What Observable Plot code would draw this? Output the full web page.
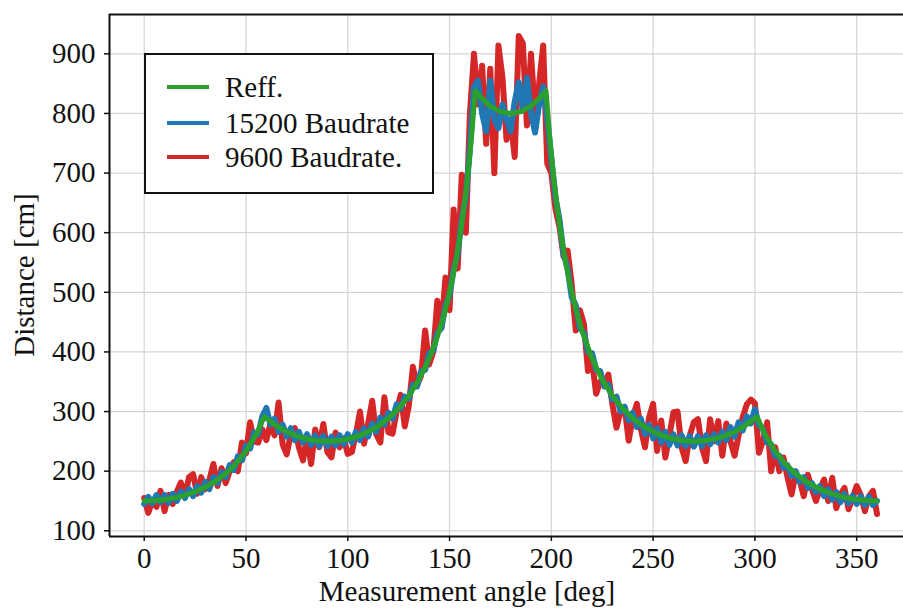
<!DOCTYPE html>
<html><head><meta charset="utf-8">
<script src="https://cdn.jsdelivr.net/npm/d3@7"></script>
<script src="https://cdn.jsdelivr.net/npm/@observablehq/plot@0.6"></script>
<style>
body{margin:0;background:#fff;}
#chart{position:relative;width:903px;height:608px;overflow:hidden;background:#fff}
</style>
</head><body><div id="chart"></div>
<script>
const seriesNames = ["Reff.", "15200 Baudrate", "9600 Baudrate."];
const seriesColors = ["#2ca02c", "#1f77b4", "#d62728"];
const xTicks = [0, 50, 100, 150, 200, 250, 300, 350];
const yTicks = [100, 200, 300, 400, 500, 600, 700, 800, 900];
const xLabel = "Measurement angle [deg]";
const yLabel = "Distance [cm]";

// Reference curve (green)
const reffAngle = [0,5,10,15,20,25,30,35,40,45,50,55,59,60,65,70,75,80,85,90,95,100,105,110,115,120,125,130,135,140,143,145,147,149,151,153,155,157,159,161,162.6,165,170,175,180,185,190,195,197.4,199,201,203,205,207,209,212,215,220,225,230,235,240,245,250,255,260,265,270,275,280,285,290,295,300,301,305,310,315,320,325,330,335,340,345,350,355,360];
const reffDist = [150,150.6,152.3,155.3,159.6,165.5,173.2,183.1,195.8,212.1,233.4,261.5,291.2,288.7,275.8,266.0,258.8,253.9,251.0,250,251.0,253.9,258.8,266.0,275.8,288.7,305.2,326.4,353.6,388.9,415.4,435.9,459.0,485.4,515.7,550.7,591.6,639.8,697.6,767.9,838,828.2,812.3,803.0,800,803.0,812.3,828.2,838,767.9,697.6,639.8,591.6,550.7,515.7,471.8,435.9,388.9,353.6,326.4,305.2,288.7,275.8,266.0,258.8,253.9,251.0,250,251.0,253.9,258.8,266.0,275.8,288.7,291.2,261.5,233.4,212.1,195.8,183.1,173.2,165.5,159.6,155.3,152.3,150.6,150];

// Measured series sampled every 2 degrees
const sampleAngle = [0,2,4,6,8,10,12,14,16,18,20,22,24,26,28,30,32,34,36,38,40,42,44,46,48,50,52,54,56,58,60,62,64,66,68,70,72,74,76,78,80,82,84,86,88,90,92,94,96,98,100,102,104,106,108,110,112,114,116,118,120,122,124,126,128,130,132,134,136,138,140,142,144,146,148,150,152,154,156,158,160,162,164,166,168,170,172,174,176,178,180,182,184,186,188,190,192,194,196,198,200,202,204,206,208,210,212,214,216,218,220,222,224,226,228,230,232,234,236,238,240,242,244,246,248,250,252,254,256,258,260,262,264,266,268,270,272,274,276,278,280,282,284,286,288,290,292,294,296,298,300,302,304,306,308,310,312,314,316,318,320,322,324,326,328,330,332,334,336,338,340,342,344,346,348,350,352,354,356,358,360];

const baud15200 = [
145,157,146,160,148,160,147,162,150,166,
155,170,158,175,164,182,170,190,180,198,
190,210,202,225,218,243,238,265,262,292,
306,278,288,266,278,258,272,252,266,248,
262,244,260,242,259,242,258,243,260,245,
262,248,266,252,272,258,280,266,290,278,
298,288,312,305,325,322,345,342,368,370,
398,402,432,440,478,495,538,565,622,660,
740,845,855,800,770,855,790,775,815,790,
770,820,852,805,860,800,768,815,845,790,
725,660,622,565,540,492,478,440,432,400,
398,370,368,342,345,320,325,300,308,285,
298,274,288,262,278,255,272,248,266,244,
262,243,260,242,259,241,259,242,260,245,
262,248,266,252,274,258,282,268,292,280,
304,278,270,248,245,225,226,206,210,192,
200,182,190,172,180,165,175,158,170,152,
165,148,162,146,159,145,158,143,157,143,
150];

const baud9600 = [
155,130,150,140,167,133,160,145,165,181,
158,190,195,162,190,170,185,212,175,205,
180,200,215,200,248,230,282,250,248,270,
252,280,260,315,245,228,262,272,240,218,
258,212,270,240,279,232,223,265,240,255,
229,232,262,300,246,280,318,262,248,324,
265,263,300,328,275,310,375,344,360,436,
379,400,486,440,525,470,639,540,697,600,
800,900,815,880,749,875,700,914,860,756,
790,727,930,918,780,900,800,850,914,716,
700,640,610,560,570,514,436,470,447,368,
385,330,350,345,362,312,273,300,307,251,
290,313,270,240,290,313,234,285,223,260,
299,300,240,217,260,282,287,240,217,287,
250,284,226,280,250,226,260,290,312,320,
314,231,250,282,200,240,200,223,190,161,
195,185,158,194,170,150,170,186,150,189,
138,160,172,136,155,175,160,133,158,167,
128];

const toRows = (angles, vals) => angles.map((a, i) => ({angle: a, dist: vals[i]}));
const reffRows = toRows(reffAngle, reffDist);
const blueRows = toRows(sampleAngle, baud15200);
const redRows = toRows(sampleAngle, baud9600);

const xDomain = [-17.05, 373];
const yDomain = [90.4, 966];
const ink = "#111";
const serif = "'Liberation Serif', 'Times New Roman', serif";
const fs = "29px";

const plot = Plot.plot({
  width: 903, height: 608,
  marginLeft: 109, marginRight: 0, marginTop: 14, marginBottom: 72,
  style: {fontFamily: serif, fontSize: fs, color: ink, background: "#fff"},
  x: {domain: xDomain, ticks: xTicks, label: null},
  y: {domain: yDomain, ticks: yTicks, label: null},
  marks: [
    Plot.gridX(xTicks, {stroke: "#d5d5d5", strokeOpacity: 1, strokeWidth: 1.2}),
    Plot.gridY(yTicks, {stroke: "#d5d5d5", strokeOpacity: 1, strokeWidth: 1.2}),
    Plot.line(redRows, {x: "angle", y: "dist", stroke: seriesColors[2], strokeWidth: 6, strokeLinejoin: "round", strokeLinecap: "round"}),
    Plot.line(blueRows, {x: "angle", y: "dist", stroke: seriesColors[1], strokeWidth: 6, strokeLinejoin: "round", strokeLinecap: "round"}),
    Plot.line(reffRows, {x: "angle", y: "dist", stroke: seriesColors[0], strokeWidth: 5, strokeLinejoin: "round", strokeLinecap: "round"}),
    Plot.ruleX([xDomain[0]], {stroke: ink, strokeWidth: 2}),
    Plot.ruleY(yDomain, {stroke: ink, strokeWidth: 2}),
    Plot.axisX(xTicks, {tickSize: 5, tickPadding: 6, strokeWidth: 1.5, label: null}),
    Plot.axisY(yTicks, {tickSize: 5, tickPadding: 9, strokeWidth: 1.5, label: null})
  ]
});
document.getElementById("chart").appendChild(plot);

const svg = d3.select(plot);
svg.append("text")
  .attr("x", 467).attr("y", 601)
  .attr("text-anchor", "middle").attr("fill", ink)
  .style("font-size", fs).style("font-family", serif)
  .text(xLabel);
svg.append("text")
  .attr("transform", "translate(34,275) rotate(-90)")
  .attr("text-anchor", "middle").attr("fill", ink)
  .style("font-size", fs).style("font-family", serif)
  .text(yLabel);

const lg = svg.append("g");
lg.append("rect").attr("x", 145).attr("y", 54).attr("width", 288).attr("height", 139)
  .attr("fill", "#fff").attr("stroke", ink).attr("stroke-width", 2);
const legendY = [87, 123, 157];
seriesNames.forEach((name, i) => {
  lg.append("line").attr("x1", 167).attr("x2", 209).attr("y1", legendY[i]).attr("y2", legendY[i])
    .attr("stroke", seriesColors[i]).attr("stroke-width", 4);
  lg.append("text").attr("x", 225).attr("y", legendY[i] + 9.5).attr("fill", ink)
    .attr("text-anchor", "start")
    .style("font-size", fs).style("font-family", serif).text(name);
});
</script>
</body></html>
